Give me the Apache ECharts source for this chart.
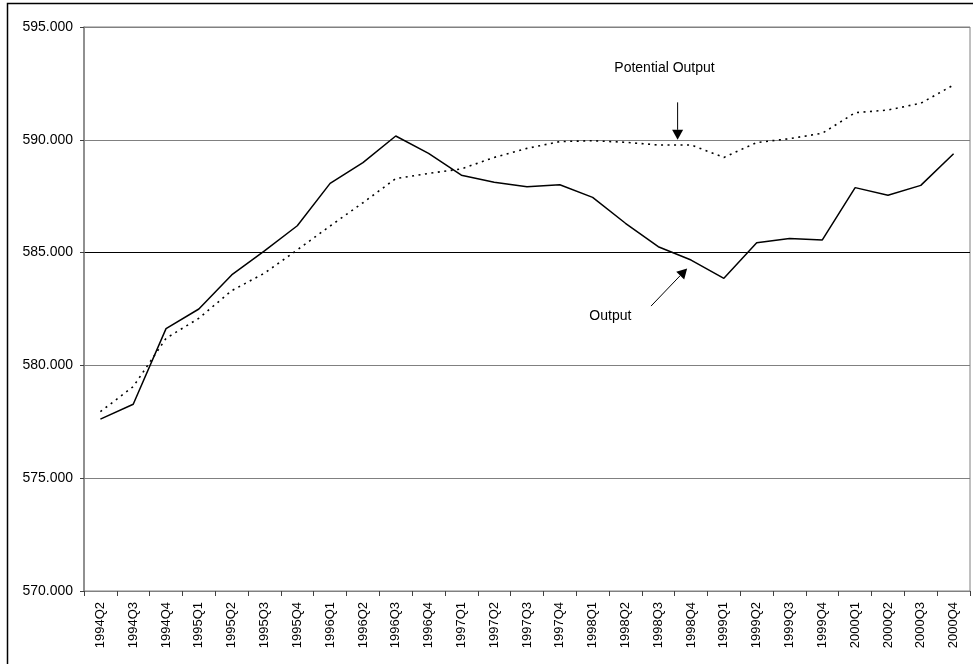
<!DOCTYPE html>
<html>
<head>
<meta charset="utf-8">
<script src="https://cdn.jsdelivr.net/npm/echarts@6/dist/echarts.min.js"></script>
<style>
  html, body { margin: 0; padding: 0; background: #fff; }
  #main { width: 973px; height: 664px; }
</style>
</head>
<body>
<div id="main"></div>
<script>
const quarters = ['1994Q2', '1994Q3', '1994Q4',
    '1995Q1', '1995Q2', '1995Q3', '1995Q4',
    '1996Q1', '1996Q2', '1996Q3', '1996Q4',
    '1997Q1', '1997Q2', '1997Q3', '1997Q4',
    '1998Q1', '1998Q2', '1998Q3', '1998Q4',
    '1999Q1', '1999Q2', '1999Q3', '1999Q4',
    '2000Q1', '2000Q2', '2000Q3', '2000Q4'];

const output = [577.62, 578.28, 581.63,
    582.50, 584.01, 585.08, 586.19,
    588.07, 588.99, 590.17, 589.40,
    588.43, 588.12, 587.92, 588.01,
    587.45, 586.30, 585.26, 584.67,
    583.86, 585.44, 585.63, 585.56,
    587.88, 587.54, 587.98, 589.38];

const potential = [577.95, 579.06, 581.20,
    582.09, 583.31, 584.09, 585.12,
    586.18, 587.21, 588.28, 588.51,
    588.71, 589.22, 589.62, 589.92,
    589.96, 589.89, 589.77, 589.77,
    589.22, 589.88, 590.05, 590.29,
    591.20, 591.32, 591.62, 592.43];

const yTicks = [570, 575, 580, 585, 590, 595];

document.addEventListener('DOMContentLoaded', function () {
    const chart = echarts.init(document.getElementById('main'));
    const font = 'Liberation Sans, Arial, sans-serif';

    const option = {
        animation: false,
        backgroundColor: '#fff',
        grid: {
            left: 84, right: 3, top: 27, bottom: 73,
            show: true, borderColor: '#808080', borderWidth: 1,
            backgroundColor: '#fff'
        },
        xAxis: {
            type: 'category',
            data: quarters,
            boundaryGap: true,
            axisLine: { lineStyle: { color: '#808080', width: 1 } },
            axisTick: { show: true, length: 5, lineStyle: { color: '#404040' } },
            axisLabel: {
                rotate: 90, margin: 11, interval: 0,
                color: '#000', fontSize: 13, fontFamily: font
            },
            splitLine: { show: false }
        },
        yAxis: {
            type: 'value',
            min: yTicks[0],
            max: yTicks[yTicks.length - 1],
            interval: 5,
            axisLine: { show: true, lineStyle: { color: '#808080', width: 1.5 } },
            axisTick: { show: true, length: 4, lineStyle: { color: '#404040' } },
            axisLabel: {
                margin: 11, color: '#000', fontSize: 14, fontFamily: font,
                formatter: v => v.toFixed(3)
            },
            splitLine: {
                show: true,
                lineStyle: {
                    color: ['#808080', '#808080', '#808080', '#000000', '#808080', '#808080'],
                    width: 1
                }
            }
        },
        series: [
            {
                name: 'Output',
                type: 'line',
                data: output,
                showSymbol: false,
                symbol: 'none',
                lineStyle: { color: '#000', width: 1.5 }
            },
            {
                name: 'Potential Output',
                type: 'line',
                data: potential,
                showSymbol: false,
                symbol: 'none',
                lineStyle: { color: '#000', width: 1.6, type: [2, 4.5] }
            }
        ]
    };
    chart.setOption(option);

    // position at a fractional category index, in data space
    function toPx(idx, v) {
        const i0 = Math.floor(idx);
        const f = idx - i0;
        const p0 = chart.convertToPixel({ gridIndex: 0 }, [i0, v]);
        const p1 = chart.convertToPixel({ gridIndex: 0 }, [i0 + 1, v]);
        return [p0[0] + (p1[0] - p0[0]) * f, p0[1]];
    }

    function arrow(from, to) {
        const a = toPx(from[0], from[1]);
        const b = toPx(to[0], to[1]);
        const ang = Math.atan2(b[1] - a[1], b[0] - a[0]);
        const len = 10, half = 5.5;
        const bx = b[0] - len * Math.cos(ang), by = b[1] - len * Math.sin(ang);
        const nx = -Math.sin(ang) * half, ny = Math.cos(ang) * half;
        return [
            {
                type: 'line',
                shape: { x1: a[0], y1: a[1], x2: bx, y2: by },
                style: { stroke: '#000', lineWidth: 1 }
            },
            {
                type: 'polygon',
                shape: { points: [[b[0], b[1]], [bx + nx, by + ny], [bx - nx, by - ny]] },
                style: { fill: '#000' }
            }
        ];
    }

    function label(text, idx, v) {
        const p = toPx(idx, v);
        return {
            type: 'text',
            x: p[0], y: p[1],
            style: {
                text: text, fill: '#000', font: '14px ' + font,
                align: 'center', verticalAlign: 'middle'
            }
        };
    }

    const graphics = [
        {
            type: 'rect',
            shape: { x: 7.5, y: 3.5, width: 1000, height: 700 },
            style: { fill: 'none', stroke: '#000', lineWidth: 1.5 },
            silent: true
        },
        label('Potential Output', 17.19, 593.17),
        label('Output', 15.54, 582.20)
    ].concat(arrow([17.59, 591.66], [17.59, 590.0]))
     .concat(arrow([16.78, 582.63], [17.88, 584.30]));

    chart.setOption({ graphic: graphics });

    window.addEventListener('resize', function () {
        chart.resize();
    });
});
</script>
</body>
</html>
